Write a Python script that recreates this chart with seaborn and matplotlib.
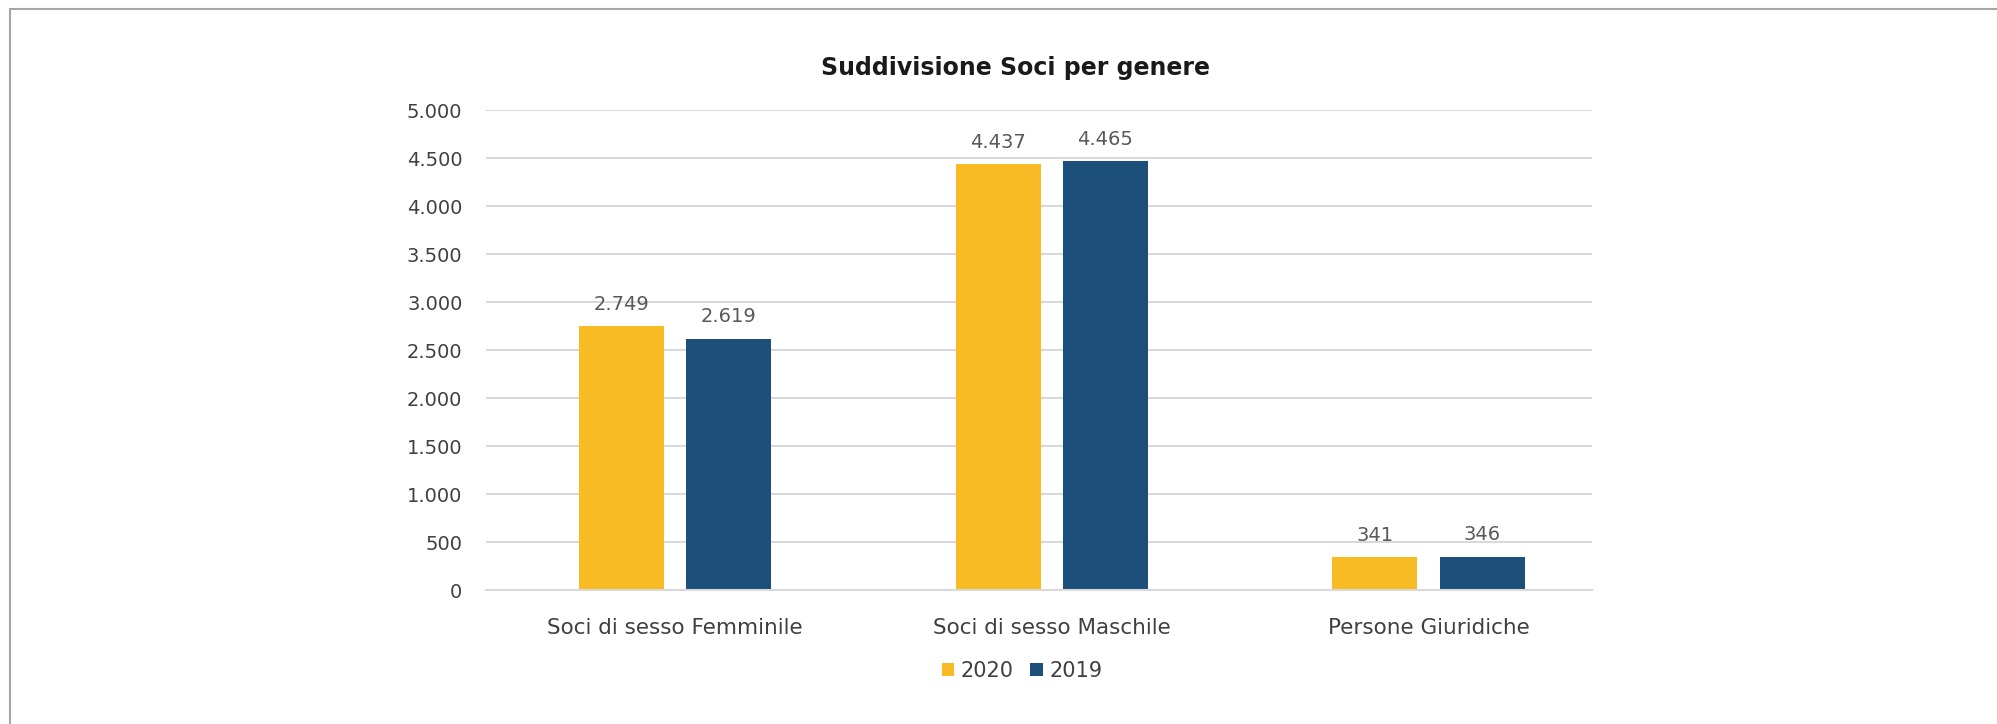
import matplotlib
matplotlib.use("Agg")
import matplotlib.pyplot as plt
import seaborn as sns
import pandas as pd
from matplotlib.patches import Patch
from matplotlib.lines import Line2D

categories = ["Soci di sesso Femminile", "Soci di sesso Maschile", "Persone Giuridiche"]
years = ["2020", "2019"]
values_2020 = [2749, 4437, 341]
values_2019 = [2619, 4465, 346]
yticks = [0, 500, 1000, 1500, 2000, 2500, 3000, 3500, 4000, 4500, 5000]
title = "Suddivisione Soci per genere"

colors = {"2020": "#F8BB24", "2019": "#1C507B"}

def fmt(v):
    return f"{v:,}".replace(",", ".")

df = pd.DataFrame({
    "categoria": categories * 2,
    "anno": [years[0]] * 3 + [years[1]] * 3,
    "valore": values_2020 + values_2019,
})

sns.set_theme(style="white")
plt.rcParams["font.family"] = ["DejaVu Sans"]

W, H = 1997, 724
fig = plt.figure(figsize=(W / 100, H / 100), dpi=100)
ax = fig.add_axes([486 / W, 1 - 590 / H, (1592 - 486) / W, (590 - 110) / H])

sns.barplot(data=df, x="categoria", y="valore", hue="anno", hue_order=years,
            palette=colors, width=0.57, gap=0.21, ax=ax, legend=False,
            saturation=1, edgecolor="none")

ax.set_ylim(0, 5000)
ax.set_xlim(-0.502, 2.434)
ax.set_yticks(yticks)
ax.set_yticklabels([fmt(v) for v in yticks])
ax.set_xlabel("")
ax.set_ylabel("")
ax.grid(axis="y", color="#d9d9d9", linewidth=1.5)
ax.set_axisbelow(True)
for s in ["top", "right", "left"]:
    ax.spines[s].set_visible(False)
ax.spines["bottom"].set_color("#d9d9d9")
ax.spines["bottom"].set_linewidth(1.5)
ax.tick_params(axis="y", length=0, labelsize=14, labelcolor="#404040", pad=17)
ax.tick_params(axis="x", length=0, labelsize=15.5, labelcolor="#404040", pad=20)

for cont in ax.containers:
    vals = [int(round(b.get_height())) for b in cont]
    ax.bar_label(cont, labels=[fmt(v) for v in vals], padding=9,
                 fontsize=14, color="#595959")

fig.text(1015 / W, 1 - 68 / H, title, ha="center", va="center",
         fontsize=17, fontweight="bold", color="#1a1a1a")

handles = [Patch(facecolor=colors[y], edgecolor="none", label=y) for y in years]
fig.legend(handles=handles, loc="center", bbox_to_anchor=(1022 / W, 1 - 671 / H),
           ncol=2, frameon=False, fontsize=15, handlelength=0.6, handleheight=0.6,
           handletextpad=0.3, columnspacing=0.8, labelcolor="#404040")

fig.add_artist(Line2D([10 / W, 1], [1 - 9 / H, 1 - 9 / H], color="#a6a6a6", linewidth=1.5))
fig.add_artist(Line2D([10 / W, 10 / W], [0, 1 - 9 / H], color="#a6a6a6", linewidth=1.5))

fig.savefig("out.png", dpi=100, facecolor="white")
